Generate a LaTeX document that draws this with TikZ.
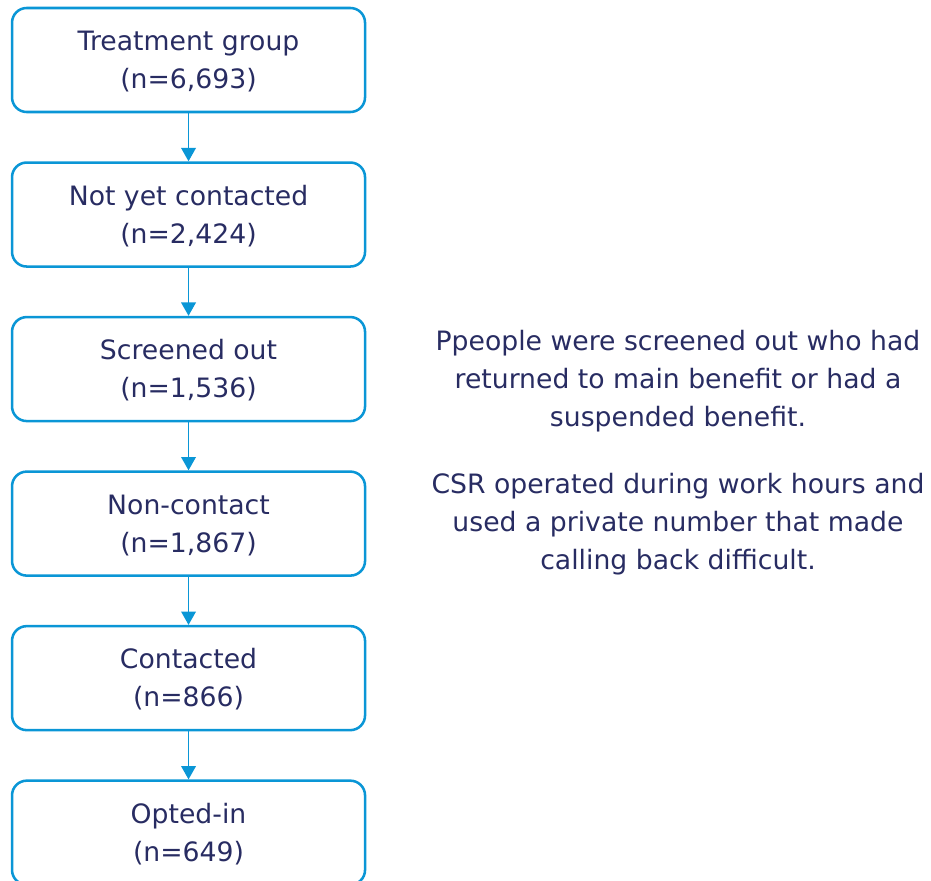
\documentclass[tikz,border=0pt]{standalone}
\usepackage{fontspec}
\setmainfont{DejaVu Sans}
\usepackage{tikz}
\usetikzlibrary{positioning,arrows.meta}
\definecolor{boxblue}{RGB}{10,150,214}
\definecolor{navytext}{RGB}{40,44,98}
\tikzset{>={Triangle[width=11pt,length=10pt]}}
\tikzset{
	stage/.style={draw=boxblue, line width=1.9pt, rounded corners=11pt,
		minimum width=264.75pt, minimum height=78pt, align=center,
		text=navytext, font=\fontsize{20}{28.5}\selectfont},
	note/.style={align=center, text=navytext, font=\fontsize{20}{28.5}\selectfont},
	flow/.style={->, draw=boxblue, line width=1.1pt}
}

\begin{document}
\begin{tikzpicture}
		\useasboundingbox (0,0) rectangle (698.25pt,-660.75pt);
		\node(A1) [stage] at (141.4pt,-45pt)	{\rule{0pt}{17pt}Treatment group\\(n=6,693)};
		\node(A2) [stage, below=36pt of A1]	{\rule{0pt}{17pt}Not yet contacted\\(n=2,424)};
		\node(A3) [stage, below=36pt of A2]	{\rule{0pt}{17pt}Screened out\\(n=1,536)};
		\node(A4) [stage, below=36pt of A3]	{\rule{0pt}{17pt}Non-contact\\(n=1,867)};
		\node(A5) [stage, below=36pt of A4]	{\rule{0pt}{17pt}Contacted\\(n=866)};
		\node(A6) [stage, below=36pt of A5]	{\rule{0pt}{17pt}Opted-in\\(n=649)};
		
		\node(C1) [note] at (508.5pt,-285.75pt)	{Ppeople were screened out who had\\returned to main benefit or had a\\suspended benefit.};
		\node(C2) [note] at (508.5pt,-393pt)	{CSR operated during work hours and\\used a private number that made\\calling back difficult.};
		
		\draw[flow](A1) -- (A2);
		\draw[flow](A2) -- (A3);
		\draw[flow](A3) -- (A4);
		\draw[flow](A4) -- (A5);
		\draw[flow](A5) -- (A6);
	\end{tikzpicture}
\end{document}
